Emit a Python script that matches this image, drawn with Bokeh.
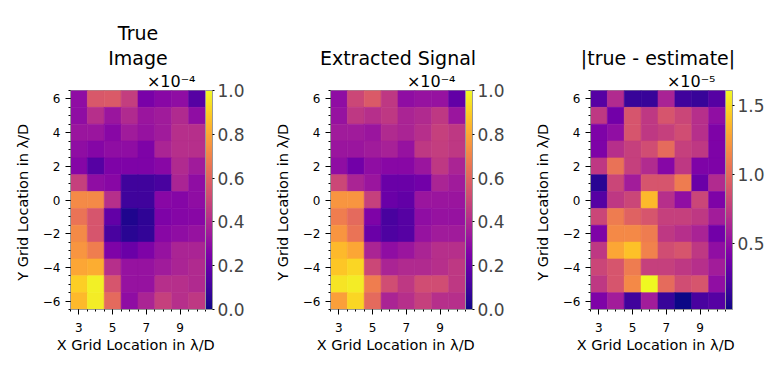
from bokeh.plotting import figure
from bokeh.models import (ColumnDataSource, LinearColorMapper, ColorBar, FixedTicker,
                          PrintfTickFormatter, Title, Range1d)
from bokeh.layouts import row
from bokeh.palettes import Plasma256
from bokeh.transform import transform
from bokeh.embed import file_html
from bokeh.resources import INLINE

# ---- data (rows listed from top, y=6, down to y=-6) ----
x_cols = [3, 4, 5, 6, 7, 8, 9, 10]
y_rows = [6, 5, 4, 3, 2, 1, 0, -1, -2, -3, -4, -5, -6]

true_image = [  # units of 1e-4
    [0.30, 0.56, 0.57, 0.47, 0.24, 0.28, 0.30, 0.15],
    [0.30, 0.42, 0.33, 0.40, 0.33, 0.35, 0.40, 0.30],
    [0.33, 0.33, 0.28, 0.35, 0.32, 0.35, 0.42, 0.42],
    [0.30, 0.27, 0.30, 0.30, 0.25, 0.38, 0.42, 0.42],
    [0.27, 0.15, 0.25, 0.25, 0.25, 0.28, 0.40, 0.35],
    [0.48, 0.30, 0.28, 0.10, 0.10, 0.12, 0.38, 0.30],
    [0.72, 0.72, 0.42, 0.10, 0.10, 0.28, 0.27, 0.30],
    [0.65, 0.55, 0.18, 0.03, 0.06, 0.25, 0.27, 0.28],
    [0.72, 0.55, 0.12, 0.05, 0.07, 0.28, 0.30, 0.32],
    [0.75, 0.68, 0.25, 0.20, 0.25, 0.32, 0.38, 0.38],
    [0.80, 0.82, 0.42, 0.32, 0.32, 0.35, 0.38, 0.40],
    [0.90, 0.98, 0.55, 0.32, 0.32, 0.42, 0.42, 0.40],
    [0.85, 0.97, 0.62, 0.30, 0.38, 0.48, 0.42, 0.45],
]

extracted_signal = [  # units of 1e-4
    [0.30, 0.50, 0.57, 0.45, 0.30, 0.32, 0.32, 0.18],
    [0.32, 0.45, 0.42, 0.45, 0.38, 0.40, 0.45, 0.33],
    [0.35, 0.35, 0.33, 0.40, 0.38, 0.42, 0.48, 0.45],
    [0.33, 0.33, 0.35, 0.37, 0.32, 0.45, 0.47, 0.45],
    [0.30, 0.22, 0.30, 0.28, 0.28, 0.33, 0.45, 0.38],
    [0.50, 0.38, 0.33, 0.20, 0.20, 0.22, 0.38, 0.35],
    [0.75, 0.75, 0.48, 0.20, 0.18, 0.33, 0.33, 0.33],
    [0.68, 0.62, 0.25, 0.12, 0.15, 0.30, 0.32, 0.32],
    [0.75, 0.65, 0.20, 0.13, 0.15, 0.32, 0.35, 0.35],
    [0.85, 0.80, 0.38, 0.30, 0.33, 0.38, 0.42, 0.42],
    [0.88, 0.92, 0.50, 0.38, 0.40, 0.40, 0.42, 0.45],
    [0.95, 0.97, 0.68, 0.52, 0.45, 0.52, 0.52, 0.45],
    [0.78, 0.92, 0.62, 0.38, 0.42, 0.48, 0.42, 0.42],
]

abs_difference = [  # units of 1e-5
    [0.26, 0.66, 0.15, 0.15, 0.62, 0.18, 0.15, 0.26],
    [0.74, 0.37, 0.89, 0.74, 0.89, 0.81, 0.69, 0.50],
    [0.42, 0.50, 0.89, 0.74, 0.78, 0.85, 0.69, 0.42],
    [0.42, 0.69, 0.78, 0.85, 1.01, 0.78, 0.74, 0.42],
    [0.74, 1.05, 0.78, 0.66, 0.46, 0.74, 0.42, 0.42],
    [0.10, 0.81, 0.58, 0.89, 0.89, 1.10, 0.34, 0.66],
    [0.26, 0.74, 0.81, 1.37, 0.69, 0.50, 0.81, 0.42],
    [0.81, 1.10, 0.97, 0.89, 0.78, 0.78, 0.74, 0.58],
    [0.42, 1.16, 1.16, 1.10, 0.74, 0.69, 0.62, 0.37],
    [0.74, 1.29, 1.40, 1.13, 0.85, 0.89, 0.74, 0.50],
    [0.81, 0.89, 1.10, 0.78, 0.78, 0.74, 0.69, 0.58],
    [0.74, 0.89, 1.16, 1.61, 1.01, 0.85, 0.89, 0.50],
    [0.42, 0.58, 0.18, 0.58, 0.15, 0.02, 0.21, 0.26],
]

titles = [["True", "Image"], ["Extracted Signal"], ["|true - estimate|"]]
offset_texts = ["×10⁻⁴", "×10⁻⁴", "×10⁻⁵"]
cbar_ticks = [[0.0, 0.2, 0.4, 0.6, 0.8, 1.0],
              [0.0, 0.2, 0.4, 0.6, 0.8, 1.0],
              [0.5, 1.0, 1.5]]
x_ticks = [3, 5, 7, 9]
y_ticks = [-6, -4, -2, 0, 2, 4, 6]
x_label = "X Grid Location in  λ/D"
y_label = "Y Grid Location in  λ/D"

FONT = "DejaVu Sans"
SPINE = "#999999"


def minus(v):
    return str(v).replace("-", "\u2212")


def make_panel(values, title_lines, offset_text, low, high, ticks, right_border):
    xs, ys, vs = [], [], []
    for j, yv in enumerate(y_rows):
        for i, xv in enumerate(x_cols):
            xs.append(xv)
            ys.append(yv)
            vs.append(values[j][i])
    src = ColumnDataSource(dict(x=xs, y=ys, v=vs))
    mapper = LinearColorMapper(palette=Plasma256, low=low, high=high)

    p = figure(frame_width=135, frame_height=219,
               x_range=Range1d(min(x_cols) - 0.5, max(x_cols) + 0.5),
               y_range=Range1d(min(y_rows) - 0.5, max(y_rows) + 0.5),
               output_backend="svg", toolbar_location=None,
               min_border_left=70, min_border_right=right_border,
               min_border_top=90, min_border_bottom=67)
    p.rect('x', 'y', 1, 1, source=src,
           fill_color=transform('v', mapper),
           line_color=transform('v', mapper), line_width=0.6)

    p.xgrid.visible = False
    p.ygrid.visible = False
    p.outline_line_color = SPINE
    p.background_fill_color = "white"

    xminor = [min(x_cols) - 0.5 + 0.5 * k for k in range(int((max(x_cols) - min(x_cols) + 1) * 2) + 1)]
    yminor = [min(y_rows) - 0.5 + 0.5 * k for k in range(int((max(y_rows) - min(y_rows) + 1) * 2) + 1)]
    p.xaxis.ticker = FixedTicker(ticks=x_ticks, minor_ticks=xminor)
    p.yaxis.ticker = FixedTicker(ticks=y_ticks, minor_ticks=yminor)
    p.xaxis.major_label_overrides = {t: minus(t) for t in x_ticks}
    p.yaxis.major_label_overrides = {t: minus(t) for t in y_ticks}

    for ax in (p.xaxis[0], p.yaxis[0]):
        ax.axis_line_color = SPINE
        ax.major_tick_out = 5
        ax.major_tick_in = 0
        ax.minor_tick_out = 2
        ax.minor_tick_in = 0
        ax.major_tick_line_color = "black"
        ax.minor_tick_line_color = "black"
        ax.major_label_text_font = FONT
        ax.major_label_text_font_size = "12px"
        ax.major_label_text_color = "black"
        ax.axis_label_text_font = FONT
        ax.axis_label_text_font_size = "14.5px"
        ax.axis_label_text_font_style = "normal"
        ax.axis_label_text_color = "black"
    p.xaxis.axis_label = x_label
    p.yaxis.axis_label = y_label
    p.xaxis.major_label_standoff = 8
    p.xaxis.axis_label_standoff = 2
    p.yaxis.major_label_standoff = 5
    p.yaxis.axis_label_standoff = 9

    cb = ColorBar(color_mapper=mapper, width=7, padding=0, margin=2,
                  ticker=FixedTicker(ticks=ticks),
                  formatter=PrintfTickFormatter(format="%.1f"),
                  major_label_text_font=FONT, major_label_text_font_size="17px",
                  major_tick_out=2, major_tick_in=0,
                  major_tick_line_color="black", minor_tick_line_color=None,
                  bar_line_color=SPINE, label_standoff=3)
    p.add_layout(cb, 'right')

    p.add_layout(Title(text=offset_text, align="right", offset=10, standoff=0,
                       text_font=FONT, text_font_size="16px",
                       text_font_style="normal", text_color="black"), 'above')
    # title lines stacked upward: the last line sits nearest the plot
    for k, line in enumerate(reversed(title_lines)):
        p.add_layout(Title(text=line, align="center", standoff=2 if k == 0 else 0,
                           text_font=FONT, text_font_size="19px",
                           text_font_style="normal", text_color="black"), 'above')
    return p


p1 = make_panel(true_image, titles[0], offset_texts[0], 0.0, 1.0, cbar_ticks[0], 55)
p2 = make_panel(extracted_signal, titles[1], offset_texts[1], 0.0, 1.0, cbar_ticks[1], 55)
flat = [v for r in abs_difference for v in r]
p3 = make_panel(abs_difference, titles[2], offset_texts[2], min(flat), max(flat), cbar_ticks[2], 50)

layout = row(p1, p2, p3)
open("out.html", "w").write(file_html(layout, INLINE))
